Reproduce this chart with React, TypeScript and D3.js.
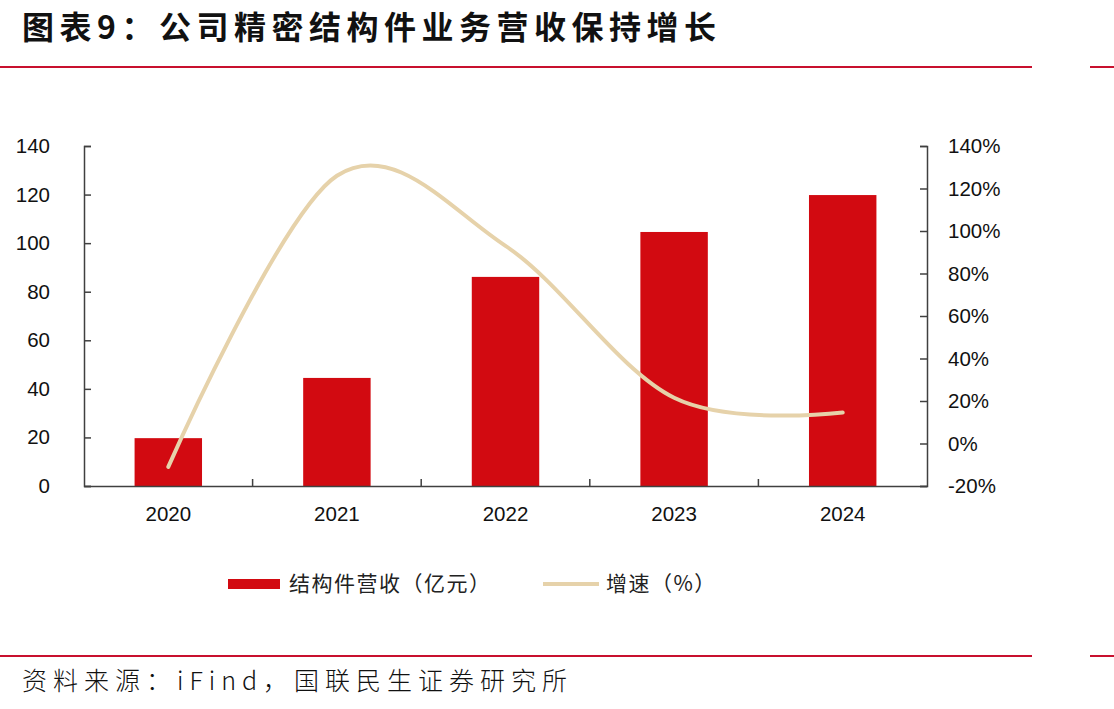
import { useEffect, useRef } from "react";
import * as d3 from "d3";

const years = ["2020", "2021", "2022", "2023", "2024"];
const revenue = [19.7, 44.5, 86.1, 104.6, 119.8];
const growth = [-11, 126, 93, 21.5, 14.6];
const leftTicks = [0, 20, 40, 60, 80, 100, 120, 140];
const rightTicks = [-20, 0, 20, 40, 60, 80, 100, 120, 140];

const title = "图表9：公司精密结构件业务营收保持增长";
const source = "资料来源：iFind，国联民生证券研究所";
const barName = "结构件营收（亿元）";
const lineName = "增速（%）";

const W = 1114;
const H = 709;
const RED = "#d20a11";
const BEIGE = "#e6d2aa";
const RULE = "#c8102e";
const AXIS = "#404040";
const cjk = "'Noto Sans CJK SC', sans-serif";
const num = "'Liberation Sans', Arial, sans-serif";

const App = () => {
  const svgRef = useRef<SVGSVGElement>(null);

  useEffect(() => {
    const svg = d3.select(svgRef.current);
    svg.selectAll("*").remove();

    const margin = { top: 146, right: 187, bottom: 223, left: 84 };
    const x = d3.scaleBand()
      .domain(years)
      .range([margin.left, W - margin.right])
      .paddingInner(0.6)
      .paddingOuter(0.3);
    const band = d3.scaleBand()
      .domain(years)
      .range([margin.left, W - margin.right]);
    const y = d3.scaleLinear().domain([0, 140]).range([H - margin.bottom, margin.top]);
    const y2 = d3.scaleLinear().domain([-20, 140]).range([H - margin.bottom, margin.top]);

    // title and rules
    svg.append("text")
      .attr("x", 22).attr("y", 39)
      .attr("font-family", cjk).attr("font-weight", 700)
      .attr("font-size", 32).attr("letter-spacing", 5.5).attr("fill", "#111")
      .text(title);

    [67, 656].forEach(yy => {
      svg.append("line").attr("x1", 0).attr("x2", 1032).attr("y1", yy).attr("y2", yy)
        .attr("stroke", RULE).attr("stroke-width", 2);
      svg.append("line").attr("x1", 1090).attr("x2", W).attr("y1", yy).attr("y2", yy)
        .attr("stroke", RULE).attr("stroke-width", 2);
    });

    // bars
    svg.append("g")
      .selectAll("rect")
      .data(years)
      .join("rect")
      .attr("x", d => x(d)!)
      .attr("y", (d, i) => y(revenue[i]))
      .attr("width", x.bandwidth())
      .attr("height", (d, i) => y(0) - y(revenue[i]))
      .attr("fill", RED);

    // growth line
    const line = d3.line<number>()
      .x((d, i) => band(years[i])! + band.bandwidth() / 2)
      .y(d => y2(d))
      .curve(d3.curveCardinal.tension(0));
    svg.append("path")
      .attr("d", line(growth))
      .attr("fill", "none")
      .attr("stroke", BEIGE)
      .attr("stroke-width", 4)
      .attr("stroke-linecap", "round");

    // left axis
    const left = svg.append("g")
      .attr("transform", `translate(${margin.left},0)`)
      .call(d3.axisRight(y).tickValues(leftTicks).tickSize(7).tickFormat(d3.format("d")));
    left.select(".domain").attr("stroke", AXIS).attr("stroke-width", 1.5);
    left.selectAll(".tick line").attr("stroke", AXIS).attr("stroke-width", 1.5);
    left.selectAll(".tick text")
      .attr("x", -34).attr("text-anchor", "end")
      .attr("font-family", num).attr("font-size", 20.5).attr("fill", "#111");

    // right axis
    const right = svg.append("g")
      .attr("transform", `translate(${W - margin.right},0)`)
      .call(d3.axisLeft(y2).tickValues(rightTicks).tickSize(7).tickFormat(d => `${d}%`));
    right.select(".domain").attr("stroke", AXIS).attr("stroke-width", 1.5);
    right.selectAll(".tick line").attr("stroke", AXIS).attr("stroke-width", 1.5);
    right.selectAll(".tick text")
      .attr("x", 21).attr("text-anchor", "start")
      .attr("font-family", num).attr("font-size", 20.5).attr("fill", "#111");

    // category axis
    const bottom = svg.append("g")
      .attr("transform", `translate(0,${y(0)})`)
      .call(d3.axisBottom(band).tickSize(0).tickSizeOuter(0));
    bottom.select(".domain").attr("stroke", AXIS).attr("stroke-width", 1.5);
    bottom.selectAll(".tick text")
      .attr("y", 20)
      .attr("font-family", num).attr("font-size", 20.5).attr("fill", "#111");
    bottom.selectAll(".sep")
      .data(years.slice(1))
      .join("line")
      .attr("x1", d => band(d)!).attr("x2", d => band(d)!)
      .attr("y1", 0).attr("y2", -7)
      .attr("stroke", AXIS).attr("stroke-width", 1.5);

    // legend
    const lg = svg.append("g").attr("font-family", cjk).attr("font-size", 21)
      .attr("letter-spacing", 1.5).attr("fill", "#222");
    lg.append("rect").attr("x", 228).attr("y", 579).attr("width", 52).attr("height", 10).attr("fill", RED);
    lg.append("text").attr("x", 289).attr("y", 591).text(barName);
    lg.append("line").attr("x1", 543).attr("x2", 599).attr("y1", 584).attr("y2", 584)
      .attr("stroke", BEIGE).attr("stroke-width", 4);
    lg.append("text").attr("x", 606).attr("y", 591).text(lineName);

    // source
    svg.append("text")
      .attr("x", 22).attr("y", 690)
      .attr("font-family", cjk).attr("font-weight", 300)
      .attr("font-size", 25).attr("letter-spacing", 6).attr("fill", "#111")
      .text(source);
  }, []);

  return (
    <svg ref={svgRef} width={W} height={H}
      style={{ position: "absolute", left: 0, top: 0, background: "#fff" }} />
  );
};

export default App;
